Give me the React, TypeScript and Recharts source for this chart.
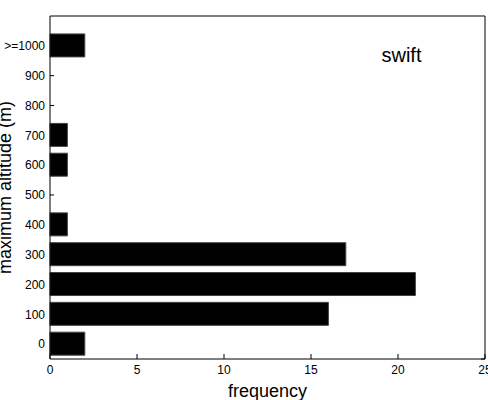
import React from "react";
import { BarChart, Bar, XAxis, YAxis, ReferenceDot } from "recharts";

const altitudes = [0, 100, 200, 300, 400, 500, 600, 700, 800, 900, 1000];
const frequency = [2, 16, 21, 17, 1, 0, 1, 1, 0, 0, 2];
const xTicks = [0, 5, 10, 15, 20, 25];
const topLabel = ">=1000";

const data = altitudes.map((alt, i) => ({ alt, freq: frequency[i] }));

const GAP = 9; // space between axis line and tick label

function altLabel(v: number) {
  return v === 1000 ? topLabel : String(v);
}

// matlab-style ticks: short marks pointing into the plot
function BottomTick(p: any) {
  const axisY = p.y - GAP;
  return (
    <g>
      <line x1={p.x} x2={p.x} y1={axisY} y2={axisY - 5} stroke="#000" />
      <text x={p.x} y={axisY + 15} textAnchor="middle" fontSize={12} fill="#000">
        {p.payload.value}
      </text>
    </g>
  );
}

function LeftTick(p: any) {
  const axisX = p.x + GAP;
  return (
    <g>
      <line x1={axisX} x2={axisX + 4} y1={p.y} y2={p.y} stroke="#000" />
      <text x={axisX - 5} y={p.y} dy="0.36em" textAnchor="end" fontSize={12} fill="#000">
        {altLabel(p.payload.value)}
      </text>
    </g>
  );
}

function TopTick(p: any) {
  return <line x1={p.x} x2={p.x} y1={p.y} y2={p.y + 5} stroke="#000" />;
}

function RightTick(p: any) {
  return <line x1={p.x} x2={p.x - 4} y1={p.y} y2={p.y} stroke="#000" />;
}

export default function App() {
  return (
    <div style={{ position: "absolute", left: 0, top: 0, fontFamily: "'Liberation Sans', Arial, sans-serif" }}>
      <BarChart
        width={488}
        height={400}
        data={data}
        layout="vertical"
        margin={{ top: 15, right: 2, bottom: 0, left: 0 }}
      >
        <XAxis
          type="number"
          domain={[0, 25]}
          ticks={xTicks}
          interval={0}
          height={41}
          tickSize={0}
          tickMargin={GAP}
          tickLine={false}
          axisLine={{ stroke: "#000" }}
          tick={<BottomTick />}
          label={{
            value: "frequency",
            content: (p: any) => (
              <text
                x={p.viewBox.x + p.viewBox.width / 2}
                y={p.viewBox.y + 38}
                textAnchor="middle"
                fontSize={18}
                fill="#000"
              >
                frequency
              </text>
            ),
          }}
        />
        <XAxis
          xAxisId="top"
          orientation="top"
          type="number"
          domain={[0, 25]}
          ticks={xTicks}
          interval={0}
          height={1}
          tickSize={0}
          tickMargin={0}
          tickLine={false}
          tick={<TopTick />}
          axisLine={{ stroke: "#000" }}
        />
        <YAxis
          type="number"
          dataKey="alt"
          reversed
          domain={[-50, 1100]}
          ticks={altitudes}
          interval={0}
          width={50}
          tickSize={0}
          tickMargin={GAP}
          tickLine={false}
          axisLine={{ stroke: "#000" }}
          tick={<LeftTick />}
          label={{
            value: "maximum altitude (m)",
            content: (p: any) => {
              const x = p.viewBox.x + 10.5;
              const y = p.viewBox.y + p.viewBox.height / 2;
              return (
                <text
                  x={x}
                  y={y}
                  transform={`rotate(-90, ${x}, ${y})`}
                  textAnchor="middle"
                  fontSize={18}
                  fill="#000"
                >
                  maximum altitude (m)
                </text>
              );
            },
          }}
        />
        <YAxis
          yAxisId="right"
          orientation="right"
          type="number"
          reversed
          domain={[-50, 1100]}
          ticks={altitudes}
          interval={0}
          width={1}
          tickSize={0}
          tickMargin={0}
          tickLine={false}
          tick={<RightTick />}
          axisLine={{ stroke: "#000" }}
        />
        <Bar dataKey="freq" fill="#000" stroke="#444" barSize={23} isAnimationActive={false} />
        <ReferenceDot
          x={20.2}
          y={970}
          r={0}
          fill="none"
          stroke="none"
          label={{ value: "swift", position: "center", fontSize: 20, fill: "#000" }}
        />
      </BarChart>
    </div>
  );
}
